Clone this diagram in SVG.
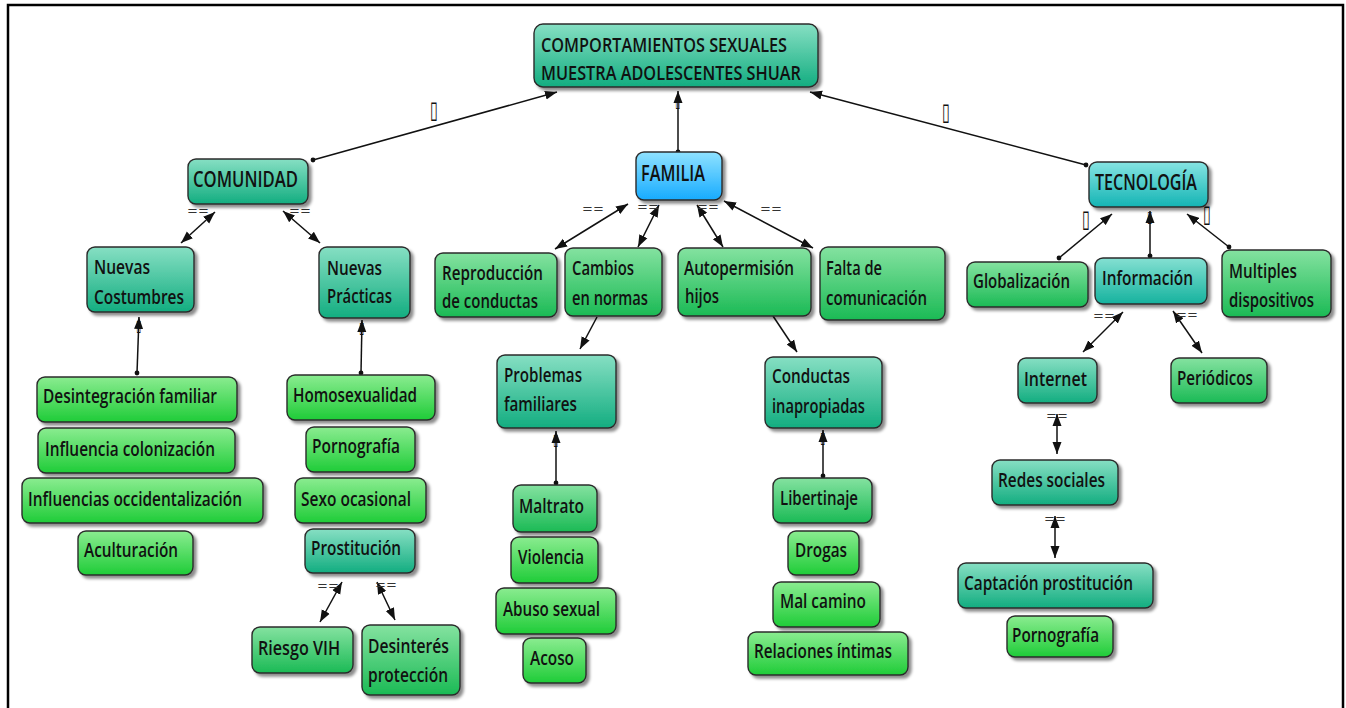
<svg xmlns="http://www.w3.org/2000/svg" width="1346" height="708" viewBox="0 0 1346 708">
<defs>
<style>
.n rect{stroke:#2b2b2b;stroke-width:1.4;filter:url(#sh)}
.n text{font-family:"Open Sans","Liberation Sans",Arial,sans-serif;font-weight:600;font-size:20.5px;fill:#111}
.n text.k{font-size:21.5px}
.tl rect{fill:url(#gTl)}
.cy rect{fill:url(#gCy)}
.ci rect{fill:url(#gCi)}
.bl rect{fill:url(#gBl)}
.gm rect{fill:url(#gGm)}
.gb rect{fill:url(#gGb)}
.c line{stroke:#111;stroke-width:1.5;fill:none}
.d{marker-start:url(#dot);marker-end:url(#ar)}
.b{marker-start:url(#ar);marker-end:url(#ar)}
.s{marker-end:url(#ar)}
.lb{font-family:"DejaVu Sans",sans-serif;font-size:13px;fill:#333;text-anchor:middle}
.tf{font-family:"DejaVu Sans",sans-serif;font-size:24px;fill:#111;text-anchor:middle}
.tfs{font-family:"DejaVu Sans",sans-serif;font-size:16px;fill:#111;text-anchor:middle}
</style>
<filter id="sh" x="-10%" y="-20%" width="125%" height="150%"><feDropShadow dx="3" dy="3" stdDeviation="1.5" flood-color="#000" flood-opacity="0.45"/></filter>
<linearGradient id="gTl" x1="0" y1="0" x2="0" y2="1"><stop offset="0" stop-color="#86dfc3"/><stop offset="1" stop-color="#13ad80"/></linearGradient>
<linearGradient id="gCy" x1="0" y1="0" x2="0" y2="1"><stop offset="0" stop-color="#86e4e2"/><stop offset="1" stop-color="#14b4b4"/></linearGradient>
<linearGradient id="gCi" x1="0" y1="0" x2="0" y2="1"><stop offset="0" stop-color="#84e0d2"/><stop offset="1" stop-color="#15b29e"/></linearGradient>
<linearGradient id="gBl" x1="0" y1="0" x2="0" y2="1"><stop offset="0" stop-color="#8fe2ff"/><stop offset="1" stop-color="#17abff"/></linearGradient>
<linearGradient id="gGm" x1="0" y1="0" x2="0" y2="1"><stop offset="0" stop-color="#84e2a0"/><stop offset="1" stop-color="#1bba55"/></linearGradient>
<linearGradient id="gGb" x1="0" y1="0" x2="0" y2="1"><stop offset="0" stop-color="#8aec90"/><stop offset="1" stop-color="#1fcc38"/></linearGradient>
<marker id="ar" viewBox="0 0 12 10" refX="12" refY="5" markerWidth="12" markerHeight="10" markerUnits="userSpaceOnUse" orient="auto-start-reverse"><path d="M0,0.5 L12,5 L0,9.5 Z" fill="#111"/></marker>
<marker id="dot" viewBox="0 0 6 6" refX="3" refY="3" markerWidth="6" markerHeight="6" markerUnits="userSpaceOnUse"><circle cx="3" cy="3" r="2.4" fill="#111"/></marker>
</defs>
<rect width="1346" height="708" fill="#fff"/>
<rect x="8" y="5" width="1335" height="712" fill="none" stroke="#000" stroke-width="2.5"/>

<g id="connectors" class="c">
<line class="d" x1="313" y1="160" x2="557" y2="92"/>
<line class="d" x1="678" y1="152" x2="678" y2="91"/>
<line class="d" x1="1086" y1="165" x2="810" y2="92"/>
<line class="b" x1="215" y1="212" x2="181" y2="243"/>
<line class="b" x1="283" y1="211" x2="320" y2="243"/>
<line class="d" x1="137" y1="373" x2="139" y2="317"/>
<line class="d" x1="361" y1="373" x2="362" y2="320"/>
<line class="b" x1="628" y1="204" x2="555" y2="249"/>
<line class="b" x1="659" y1="205" x2="638" y2="247"/>
<line class="b" x1="697" y1="205" x2="723" y2="247"/>
<line class="b" x1="724" y1="201" x2="813" y2="248"/>
<line class="s" x1="597" y1="317" x2="580" y2="349"/>
<line class="s" x1="773" y1="316" x2="797" y2="352"/>
<line class="d" x1="556" y1="483" x2="556" y2="431"/>
<line class="d" x1="823" y1="476" x2="823" y2="430"/>
<line class="d" x1="1059" y1="258" x2="1112" y2="214"/>
<line class="d" x1="1150" y1="256" x2="1150" y2="211"/>
<line class="d" x1="1229" y1="247" x2="1187" y2="214"/>
<line class="b" x1="1123" y1="312" x2="1083" y2="352"/>
<line class="b" x1="1173" y1="311" x2="1202" y2="353"/>
<line class="b" x1="1057" y1="414" x2="1057" y2="454"/>
<line class="b" x1="1055" y1="516" x2="1055" y2="558"/>
<line class="b" x1="342" y1="582" x2="320" y2="622"/>
<line class="b" x1="377" y1="582" x2="395" y2="620"/>
<text class="tf" transform="translate(434,118) scale(0.6,1)">▯</text>
<text class="tfs" transform="translate(678,107) scale(0.6,1)">▯</text>
<text class="tf" transform="translate(946,120) scale(0.6,1)">▯</text>
<text class="tfs" transform="translate(139,331) scale(0.6,1)">▯</text>
<text class="tfs" transform="translate(362,333) scale(0.6,1)">▯</text>
<text class="tfs" transform="translate(556,445) scale(0.6,1)">▯</text>
<text class="tfs" transform="translate(823,443) scale(0.6,1)">▯</text>
<text class="tf" transform="translate(1086,227) scale(0.6,1)">▯</text>
<text class="tfs" transform="translate(1150,222) scale(0.6,1)">▯</text>
<text class="tf" transform="translate(1207,222) scale(0.6,1)">▯</text>
<text class="lb" x="198" y="215">==</text>
<text class="lb" x="300" y="215">==</text>
<text class="lb" x="593" y="213">==</text>
<text class="lb" x="648" y="211">==</text>
<text class="lb" x="708" y="211">==</text>
<text class="lb" x="771" y="213">==</text>
<text class="lb" x="1104" y="320">==</text>
<text class="lb" x="1187" y="319">==</text>
<text class="lb" x="1057" y="420">==</text>
<text class="lb" x="1055" y="523">==</text>
<text class="lb" x="328" y="590">==</text>
<text class="lb" x="386" y="589">==</text>
</g>

<g id="n-title" class="n tl"><rect x="534" y="24" width="284" height="63" rx="9"/><text x="541" y="52" textLength="246" lengthAdjust="spacingAndGlyphs">COMPORTAMIENTOS SEXUALES</text><text x="541" y="80" textLength="260" lengthAdjust="spacingAndGlyphs">MUESTRA ADOLESCENTES SHUAR</text></g>
<g id="n-comunidad" class="n tl"><rect x="188" y="159" width="120" height="45" rx="8"/><text class="k" x="193" y="187" textLength="105" lengthAdjust="spacingAndGlyphs">COMUNIDAD</text></g>
<g id="n-familia" class="n bl"><rect x="636" y="152" width="86" height="48" rx="8"/><text class="k" x="641" y="181" textLength="64" lengthAdjust="spacingAndGlyphs">FAMILIA</text></g>
<g id="n-tecnologia" class="n cy"><rect x="1089" y="162" width="119" height="45" rx="8"/><text class="k" x="1095" y="190" textLength="102" lengthAdjust="spacingAndGlyphs">TECNOLOGÍA</text></g>

<g id="n-nuevas-costumbres" class="n tl"><rect x="87" y="247" width="107" height="65" rx="8"/><text x="94" y="274" textLength="56" lengthAdjust="spacingAndGlyphs">Nuevas</text><text x="94" y="304" textLength="90" lengthAdjust="spacingAndGlyphs">Costumbres</text></g>
<g id="n-nuevas-practicas" class="n tl"><rect x="319" y="247" width="91" height="71" rx="8"/><text x="327" y="275" textLength="55" lengthAdjust="spacingAndGlyphs">Nuevas</text><text x="327" y="303" textLength="65" lengthAdjust="spacingAndGlyphs">Prácticas</text></g>
<g id="n-reproduccion" class="n gm"><rect x="435" y="253" width="122" height="64" rx="8"/><text x="442" y="280" textLength="101" lengthAdjust="spacingAndGlyphs">Reproducción</text><text x="442" y="308" textLength="96" lengthAdjust="spacingAndGlyphs">de conductas</text></g>
<g id="n-cambios" class="n gm"><rect x="565" y="248" width="97" height="68" rx="8"/><text x="572" y="275" textLength="62" lengthAdjust="spacingAndGlyphs">Cambios</text><text x="572" y="305" textLength="76" lengthAdjust="spacingAndGlyphs">en normas</text></g>
<g id="n-autopermision" class="n gm"><rect x="678" y="248" width="133" height="68" rx="8"/><text x="684" y="275" textLength="110" lengthAdjust="spacingAndGlyphs">Autopermisión</text><text x="685" y="303" textLength="34" lengthAdjust="spacingAndGlyphs">hijos</text></g>
<g id="n-falta" class="n gm"><rect x="820" y="247" width="125" height="73" rx="8"/><text x="826" y="275" textLength="56" lengthAdjust="spacingAndGlyphs">Falta de</text><text x="826" y="305" textLength="101" lengthAdjust="spacingAndGlyphs">comunicación</text></g>
<g id="n-globalizacion" class="n gm"><rect x="967" y="262" width="121" height="45" rx="8"/><text x="973" y="288" textLength="97" lengthAdjust="spacingAndGlyphs">Globalización</text></g>
<g id="n-informacion" class="n ci"><rect x="1095" y="258" width="112" height="46" rx="8"/><text x="1102" y="285" textLength="91" lengthAdjust="spacingAndGlyphs">Información</text></g>
<g id="n-multiples" class="n gm"><rect x="1222" y="250" width="109" height="67" rx="8"/><text x="1229" y="278" textLength="68" lengthAdjust="spacingAndGlyphs">Multiples</text><text x="1229" y="307" textLength="85" lengthAdjust="spacingAndGlyphs">dispositivos</text></g>

<g id="n-desintegracion" class="n gb"><rect x="37" y="377" width="200" height="45" rx="8"/><text x="43" y="403" textLength="174" lengthAdjust="spacingAndGlyphs">Desintegración familiar</text></g>
<g id="n-influencia" class="n gb"><rect x="38" y="428" width="197" height="45" rx="8"/><text x="45" y="456" textLength="170" lengthAdjust="spacingAndGlyphs">Influencia colonización</text></g>
<g id="n-influencias" class="n gb"><rect x="22" y="478" width="241" height="45" rx="8"/><text x="28" y="506" textLength="214" lengthAdjust="spacingAndGlyphs">Influencias occidentalización</text></g>
<g id="n-aculturacion" class="n gb"><rect x="78" y="531" width="115" height="44" rx="8"/><text x="84" y="557" textLength="94" lengthAdjust="spacingAndGlyphs">Aculturación</text></g>

<g id="n-homosexualidad" class="n gb"><rect x="287" y="375" width="148" height="45" rx="8"/><text x="293" y="402" textLength="124" lengthAdjust="spacingAndGlyphs">Homosexualidad</text></g>
<g id="n-pornografia1" class="n gb"><rect x="306" y="427" width="109" height="45" rx="8"/><text x="312" y="453" textLength="88" lengthAdjust="spacingAndGlyphs">Pornografía</text></g>
<g id="n-sexo" class="n gb"><rect x="295" y="478" width="131" height="45" rx="8"/><text x="301" y="506" textLength="110" lengthAdjust="spacingAndGlyphs">Sexo ocasional</text></g>
<g id="n-prostitucion" class="n tl"><rect x="305" y="529" width="110" height="44" rx="8"/><text x="311" y="555" textLength="90" lengthAdjust="spacingAndGlyphs">Prostitución</text></g>
<g id="n-riesgo" class="n gm"><rect x="252" y="627" width="101" height="46" rx="8"/><text x="258" y="655" textLength="82" lengthAdjust="spacingAndGlyphs">Riesgo VIH</text></g>
<g id="n-desinteres" class="n gm"><rect x="362" y="625" width="98" height="70" rx="8"/><text x="368" y="653" textLength="81" lengthAdjust="spacingAndGlyphs">Desinterés</text><text x="368" y="682" textLength="80" lengthAdjust="spacingAndGlyphs">protección</text></g>

<g id="n-problemas" class="n tl"><rect x="497" y="355" width="119" height="73" rx="8"/><text x="504" y="382" textLength="78" lengthAdjust="spacingAndGlyphs">Problemas</text><text x="504" y="411" textLength="73" lengthAdjust="spacingAndGlyphs">familiares</text></g>
<g id="n-maltrato" class="n gm"><rect x="513" y="485" width="84" height="47" rx="8"/><text x="519" y="513" textLength="65" lengthAdjust="spacingAndGlyphs">Maltrato</text></g>
<g id="n-violencia" class="n gb"><rect x="511" y="537" width="87" height="46" rx="8"/><text x="518" y="564" textLength="66" lengthAdjust="spacingAndGlyphs">Violencia</text></g>
<g id="n-abuso" class="n gb"><rect x="496" y="588" width="120" height="46" rx="8"/><text x="503" y="616" textLength="97" lengthAdjust="spacingAndGlyphs">Abuso sexual</text></g>
<g id="n-acoso" class="n gb"><rect x="523" y="638" width="63" height="45" rx="8"/><text x="530" y="665" textLength="44" lengthAdjust="spacingAndGlyphs">Acoso</text></g>

<g id="n-conductas" class="n tl"><rect x="765" y="357" width="117" height="71" rx="8"/><text x="772" y="383" textLength="78" lengthAdjust="spacingAndGlyphs">Conductas</text><text x="772" y="413" textLength="93" lengthAdjust="spacingAndGlyphs">inapropiadas</text></g>
<g id="n-libertinaje" class="n gm"><rect x="773" y="478" width="99" height="45" rx="8"/><text x="780" y="505" textLength="78" lengthAdjust="spacingAndGlyphs">Libertinaje</text></g>
<g id="n-drogas" class="n gb"><rect x="788" y="531" width="71" height="44" rx="8"/><text x="795" y="557" textLength="52" lengthAdjust="spacingAndGlyphs">Drogas</text></g>
<g id="n-malcamino" class="n gb"><rect x="773" y="582" width="107" height="45" rx="8"/><text x="780" y="608" textLength="86" lengthAdjust="spacingAndGlyphs">Mal camino</text></g>
<g id="n-relaciones" class="n gb"><rect x="748" y="632" width="160" height="43" rx="8"/><text x="754" y="658" textLength="138" lengthAdjust="spacingAndGlyphs">Relaciones íntimas</text></g>

<g id="n-internet" class="n tl"><rect x="1018" y="358" width="79" height="45" rx="8"/><text x="1024" y="386" textLength="63" lengthAdjust="spacingAndGlyphs">Internet</text></g>
<g id="n-periodicos" class="n gm"><rect x="1171" y="358" width="96" height="45" rx="8"/><text x="1177" y="385" textLength="76" lengthAdjust="spacingAndGlyphs">Periódicos</text></g>
<g id="n-redes" class="n tl"><rect x="992" y="460" width="126" height="45" rx="8"/><text x="998" y="487" textLength="107" lengthAdjust="spacingAndGlyphs">Redes sociales</text></g>
<g id="n-captacion" class="n tl"><rect x="958" y="563" width="195" height="45" rx="8"/><text x="964" y="590" textLength="169" lengthAdjust="spacingAndGlyphs">Captación prostitución</text></g>
<g id="n-pornografia2" class="n gb"><rect x="1007" y="616" width="106" height="41" rx="8"/><text x="1012" y="642" textLength="87" lengthAdjust="spacingAndGlyphs">Pornografía</text></g>
</svg>
